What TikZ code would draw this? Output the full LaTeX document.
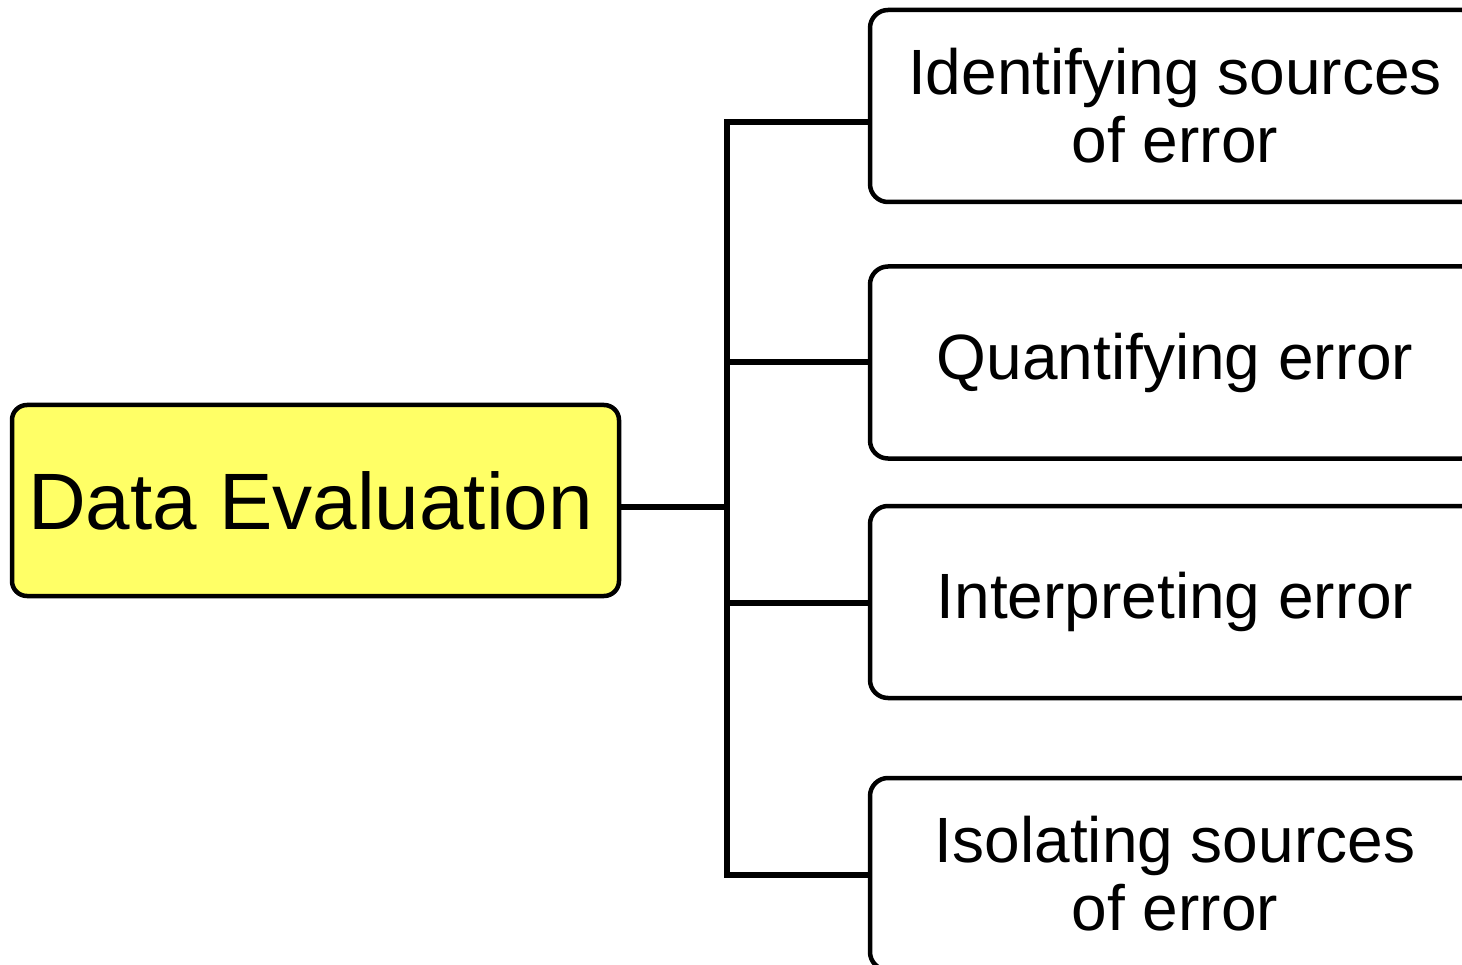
\documentclass[tikz,border=0pt]{standalone}
\usepackage{fontspec}
\setmainfont{Liberation Sans}
\definecolor{rootyellow}{HTML}{FFFF66}
\begin{document}
\begin{tikzpicture}[x=1pt,y=-1pt,
  box/.style={draw=black, line width=4.5pt, rounded corners=18pt,
    minimum width=610pt, minimum height=192pt, align=center,
    font=\fontsize{64}{68}\selectfont, inner sep=0pt},
  root/.style={draw=black, fill=rootyellow, line width=4.5pt, rounded corners=15pt,
    minimum width=607pt, minimum height=191pt,
    font=\fontsize{80}{90}\selectfont, inner sep=0pt},
  link/.style={draw=black, line width=6pt}]
\useasboundingbox (0,0) rectangle (1462,965);
\clip (0,0) rectangle (1462,965);

% root and leaf boxes
\node[root] (root) at (315.5,500.5) {\hspace*{-10pt}Data Evaluation};
\node[box] (b1) at (1175,106)   {Identifying sources\\of error};
\node[box] (b2) at (1175,362.5) {Quantifying error};
\node[box] (b3) at (1175,602)   {Interpreting error};
\node[box] (b4) at (1175,874)   {Isolating sources\\of error};

% junction points on the trunk
\coordinate (j0) at (727,507);
\coordinate (j1) at (727,122);
\coordinate (j2) at (727,362);
\coordinate (j3) at (727,603);
\coordinate (j4) at (727,875);

% tree connectors
\draw[link] (b1.west |- j1) -- (j1) -- (j4) -- (b4.west |- j4);
\draw[link] (root.east |- j0) -- (j0);
\draw[link] (j2) -- (b2.west |- j2);
\draw[link] (j3) -- (b3.west |- j3);
\end{tikzpicture}
\end{document}
